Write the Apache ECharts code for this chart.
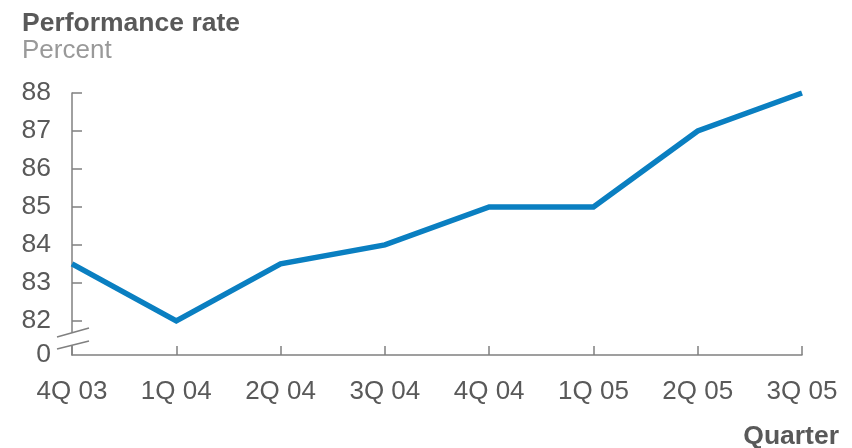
<!DOCTYPE html>
<html>
<head>
<meta charset="utf-8">
<script src="https://cdn.jsdelivr.net/npm/echarts@6/dist/echarts.min.js"></script>
<style>
  html, body { margin: 0; padding: 0; background: #fff; }
  #chart { width: 852px; height: 448px; }
</style>
</head>
<body>
<div id="chart"></div>
<script>
// Quarterly performance rate, percent
const quarters = ['4Q 03', '1Q 04', '2Q 04', '3Q 04', '4Q 04', '1Q 05', '2Q 05', '3Q 05'];
const rates = [83.5, 82, 83.5, 84, 85, 85, 87, 88];
const yTicks = [82, 83, 84, 85, 86, 87, 88];
// The value axis is broken below 82; its baseline is labelled 0
const axisFloor = 81.1;
const axisTop = 88;

const FONT = '"Liberation Sans", Arial, Helvetica, sans-serif';
const TEXT = '#595959';
const AXIS = '#808080';

const chart = echarts.init(document.getElementById('chart'), null, { renderer: 'canvas' });

chart.setOption({
  animation: false,
  backgroundColor: '#fff',
  title: [
    {
      text: 'Performance rate',
      left: 17, top: 5,
      textStyle: { fontFamily: FONT, fontSize: 26.5, fontWeight: 'bold', color: TEXT }
    },
    {
      text: 'Percent',
      left: 17, top: 33,
      textStyle: { fontFamily: FONT, fontSize: 26, fontWeight: 'normal', color: '#999999' }
    },
    {
      text: 'Quarter',
      right: 8, top: 418,
      textStyle: { fontFamily: FONT, fontSize: 26.5, fontWeight: 'bold', color: TEXT }
    }
  ],
  grid: { left: 72, right: 50, top: 93, bottom: 93, containLabel: false },
  xAxis: {
    type: 'category',
    data: quarters,
    boundaryGap: false,
    axisLine: { show: true, lineStyle: { color: AXIS, width: 1.5 } },
    axisTick: { show: true, inside: true, length: 9, alignWithLabel: true, lineStyle: { color: AXIS, width: 1.5 } },
    axisLabel: { fontFamily: FONT, fontSize: 26, color: TEXT, margin: 24 },
    splitLine: { show: false }
  },
  yAxis: {
    type: 'value',
    min: axisFloor,
    max: axisTop,
    axisLine: { show: true, lineStyle: { color: AXIS, width: 1.5 } },
    axisTick: { show: true, inside: true, length: 10, customValues: yTicks, lineStyle: { color: AXIS, width: 1.5 } },
    axisLabel: {
      fontFamily: FONT, fontSize: 26.5, color: TEXT, margin: 21,
      customValues: [axisFloor].concat(yTicks),
      formatter: v => (v === axisFloor ? '0' : String(v))
    },
    splitLine: { show: false }
  },
  series: [{
    type: 'line',
    data: rates,
    symbol: 'none',
    lineStyle: { color: '#0a7fc1', width: 5.5, cap: 'butt', join: 'miter' },
    z: 3
  }]
});

// Axis-break mark: two parallel slashes across the value axis just above the baseline
const base = chart.convertToPixel({ gridIndex: 0 }, [0, axisFloor]);
const bx = base[0], by = base[1];
chart.setOption({
  graphic: [
    {
      type: 'polygon',
      shape: { points: [[bx - 16, by - 18], [bx + 16, by - 27], [bx + 16, by - 14], [bx - 16, by - 5]] },
      style: { fill: '#fff' },
      z: 10
    },
    {
      type: 'line',
      shape: { x1: bx - 15, y1: by - 18, x2: bx + 17, y2: by - 27 },
      style: { stroke: AXIS, lineWidth: 1.5 },
      z: 11
    },
    {
      type: 'line',
      shape: { x1: bx - 15, y1: by - 6, x2: bx + 17, y2: by - 14 },
      style: { stroke: AXIS, lineWidth: 1.5 },
      z: 11
    }
  ]
});
</script>
</body>
</html>
